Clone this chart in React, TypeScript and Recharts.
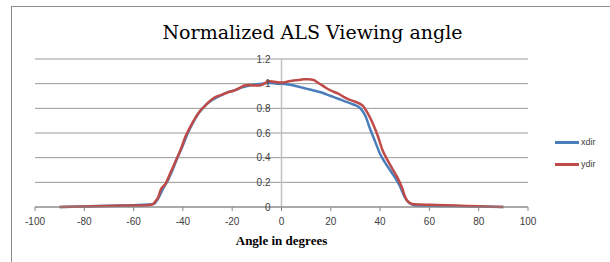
import { LineChart, Line, XAxis, YAxis, CartesianGrid, ReferenceLine, ReferenceDot } from 'recharts';

const xTicks = [-100, -80, -60, -40, -20, 0, 20, 40, 60, 80, 100];
const yTicks = [0, 0.2, 0.4, 0.6, 0.8, 1, 1.2];

const xdirAngles = [-90, -80, -70, -60, -54, -52, -51, -50, -48, -46, -44, -42, -40, -38, -36, -34, -32, -30, -28, -26, -24, -22, -20, -18, -16, -14, -12, -10, -8, -6, -4, -2, 0, 2, 4, 6, 8, 10, 12, 14, 16, 18, 20, 22, 24, 26, 28, 30, 32, 34, 36, 38, 40, 42, 44, 46, 48, 50, 52, 54, 56, 60, 70, 80, 90];
const xdirValues = [0, 0.005, 0.01, 0.015, 0.02, 0.025, 0.04, 0.07, 0.15, 0.22, 0.31, 0.41, 0.5, 0.6, 0.68, 0.75, 0.8, 0.84, 0.87, 0.89, 0.91, 0.93, 0.94, 0.955, 0.97, 0.98, 0.99, 0.995, 1.0, 1.005, 1.005, 1.0, 1.0, 0.995, 0.99, 0.98, 0.97, 0.96, 0.95, 0.94, 0.93, 0.915, 0.9, 0.885, 0.87, 0.855, 0.84, 0.825, 0.8, 0.74, 0.63, 0.53, 0.43, 0.36, 0.3, 0.24, 0.17, 0.08, 0.03, 0.015, 0.012, 0.01, 0.008, 0.004, 0];

const ydirAngles = [-90, -80, -70, -60, -54, -52, -51, -50, -49, -47, -45, -43, -41, -39, -37, -35, -33, -31, -29, -27, -25, -23, -21, -19, -17, -15, -13, -11, -9, -7, -5, -3, -1, 1, 3, 5, 7, 9, 11, 13, 15, 17, 19, 21, 23, 25, 27, 29, 31, 33, 35, 37, 39, 41, 43, 45, 47, 49, 50, 51, 53, 56, 60, 70, 80, 90];
const ydirValues = [0, 0.004, 0.008, 0.012, 0.015, 0.025, 0.05, 0.08, 0.14, 0.19, 0.28, 0.37, 0.46, 0.57, 0.65, 0.72, 0.78, 0.82, 0.86, 0.89, 0.905, 0.92, 0.935, 0.945, 0.965, 0.985, 0.99, 0.985, 0.985, 1.0, 1.02, 1.015, 1.01, 1.01, 1.02, 1.025, 1.03, 1.035, 1.035, 1.03, 1.005, 0.98, 0.955, 0.935, 0.92, 0.895, 0.875, 0.86, 0.845, 0.82, 0.76, 0.68, 0.58, 0.46, 0.38, 0.31, 0.24, 0.15, 0.09, 0.05, 0.025, 0.02, 0.018, 0.012, 0.006, 0];

const series = [
  { name: 'xdir', color: '#4a7ebb', data: xdirAngles.map((a, i) => ({ angle: a, value: xdirValues[i] })) },
  { name: 'ydir', color: '#be4b48', data: ydirAngles.map((a, i) => ({ angle: a, value: ydirValues[i] })) },
];

const labelFont = { fontSize: 10, fill: '#404040', fontFamily: 'Liberation Sans' };

export default function App() {
  return (
    <div style={{ position: 'absolute', left: 0, top: 0, width: 610, height: 262, background: '#fff', overflow: 'hidden' }}>
      <div style={{ position: 'absolute', left: 11, top: 6, width: 640, height: 300, border: '1px solid #8c8c8c' }} />
      <div style={{ position: 'absolute', left: 0, top: 20, width: 625, textAlign: 'center', fontFamily: 'DejaVu Serif', fontSize: 19, lineHeight: '24px', color: '#000' }}>
        Normalized ALS Viewing angle
      </div>
      <LineChart width={610} height={262} margin={{ top: 59, right: 82, left: 35, bottom: 25 }} style={{ position: 'absolute', left: 0, top: 0 }}>
        <CartesianGrid vertical={false} stroke="#999" />
        <XAxis
          type="number"
          dataKey="angle"
          domain={[-100, 100]}
          ticks={xTicks}
          height={30}
          interval={0}
          tick={labelFont}
          tickSize={4}
          tickMargin={7}
          tickLine={{ stroke: '#888' }}
          axisLine={{ stroke: '#888' }}
          allowDuplicatedCategory={false}
          label={{ value: 'Angle in degrees', position: 'bottom', offset: -1, style: { fontFamily: 'Liberation Serif', fontWeight: 'bold', fontSize: 13, fill: '#000' } }}
        />
        <YAxis type="number" domain={[0, 1.2]} ticks={yTicks} hide width={0} />
        <ReferenceLine x={0} stroke="#c0c0c0" strokeWidth={1.5} />
        {yTicks.map((v) => (
          <ReferenceDot key={v} x={0} y={v} r={0} stroke="none" fill="none" label={{ value: String(v), position: 'left', offset: 11, style: labelFont }} />
        ))}
        {series.map((s) => (
          <Line key={s.name} data={s.data} dataKey="value" name={s.name} type="monotone" stroke={s.color} strokeWidth={2.5} dot={false} isAnimationActive={false} />
        ))}
      </LineChart>
      {series.map((s, i) => (
        <div key={s.name} style={{ position: 'absolute', left: 555, top: 137 + i * 22, display: 'flex', alignItems: 'center', fontFamily: 'Liberation Sans', fontSize: 9, color: '#404040' }}>
          <span style={{ display: 'inline-block', width: 24, height: 3, background: s.color, marginRight: 2 }} />
          {s.name}
        </div>
      ))}
    </div>
  );
}
